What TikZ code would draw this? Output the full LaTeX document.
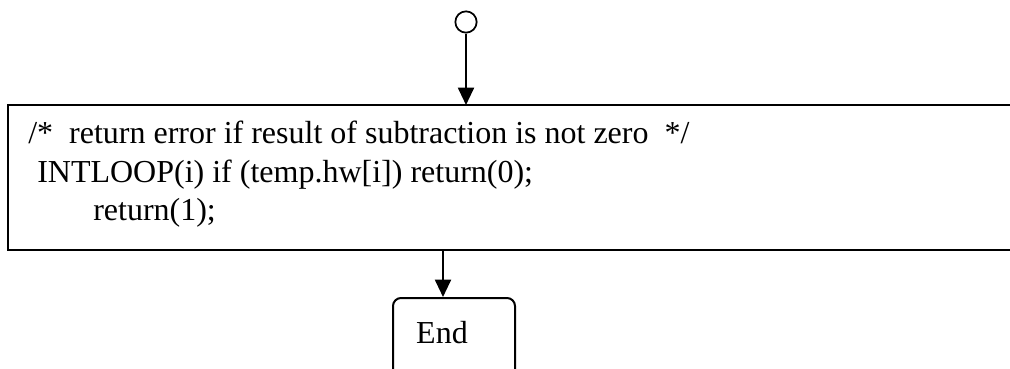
\documentclass[tikz,border=0pt]{standalone}
\usepackage{fontspec}
\setmainfont{Liberation Serif}
\usetikzlibrary{arrows.meta}
\begin{document}
\begin{tikzpicture}[x=0.75pt,y=-0.75pt,
  line/.style={line width=1.5pt},
  conn/.style={line width=1.5pt,-{Triangle[width=12pt,length=13pt]}},
  code/.style={font=\fontsize{24}{29}\selectfont,anchor=base west,inner sep=0pt},
  startc/.style={circle,draw,line width=1.3pt,minimum size=16pt,inner sep=0pt},
  endbox/.style={draw,line width=1.5pt,rounded corners=6pt,minimum width=91.5pt,minimum height=60pt,anchor=north,inner sep=0pt}]
\useasboundingbox (0,0) rectangle (1010,368);
\clip (0,0) rectangle (1010,368);
% start circle and arrow
\node[startc] (start) at (466,22) {};
\coordinate (boxtop) at (466,105);
\draw[conn] (start) -- (boxtop);
% open process box
\coordinate (tl) at (8,105);
\coordinate (bl) at (8,250);
\draw[line] (1012,105) -- (tl) -- (bl) -- (1012,250);
\node[code] (l1) at (28,143) {/*\ \ return error if result of subtraction is not zero\ \ */};
\node[code] (l2) at (37,182) {INTLOOP(i) if (temp.hw[i]) return(0);};
\node[code] (l3) at (93,220) {return(1);};
% end node
\coordinate (boxbot) at (443,250);
\node[endbox] (end) at (454,297) {};
\node[code,anchor=base] (endtxt) at (442,343) {End};
\draw[conn] (boxbot) -- (boxbot |- end.north);
\end{tikzpicture}
\end{document}
